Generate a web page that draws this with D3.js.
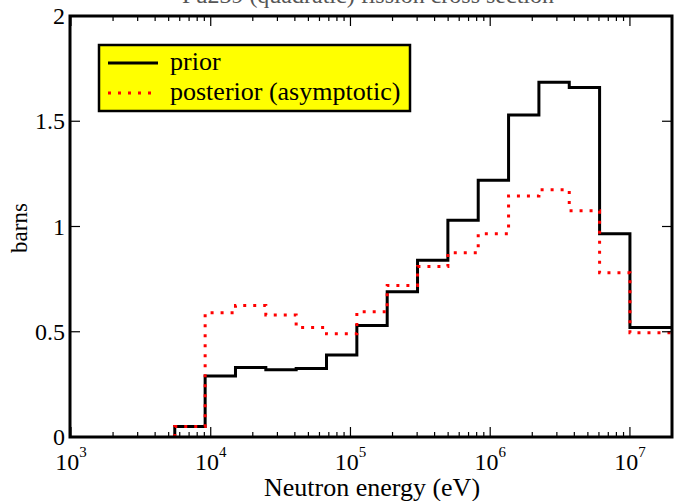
<!DOCTYPE html>
<html>
<head>
<meta charset="utf-8">
<script src="https://cdn.jsdelivr.net/npm/d3@7"></script>
<style>
    body { margin: 0; background: #fff; }
    svg text { font-family: "Liberation Serif", "Times New Roman", Times, "DejaVu Serif", serif; }
</style>
</head>
<body>
<svg id="chart" width="674" height="501"></svg>
<script>
// group boundaries (eV)
const edges = [5530, 9119, 15034, 24788, 40868, 67379, 111090, 183156, 301974,
    497871, 820850, 1353353, 2231302, 3678794, 6065307, 1e7, 2e7];
const prior = [0.05, 0.29, 0.33, 0.32, 0.325, 0.39, 0.53, 0.69, 0.84, 1.03, 1.22, 1.53, 1.685, 1.66, 0.965, 0.52];
const posterior = [0.05, 0.59, 0.625, 0.58, 0.52, 0.49, 0.595, 0.72, 0.81, 0.875, 0.965, 1.145, 1.175, 1.075, 0.78, 0.495];
const yTicks = [0, 0.5, 1, 1.5, 2];
const xDecades = [1e3, 1e4, 1e5, 1e6, 1e7];
const legendItems = ['prior', 'posterior (asymptotic)'];

const svg = d3.select('#chart');
const margin = { left: 70, right: 672, top: 16, bottom: 437 };

const x = d3.scaleLog().domain([1e3, 2e7]).range([71, 672]);
const y = d3.scaleLinear().domain([0, 2]).range([margin.bottom, margin.top]);

// title, mostly off the top of the picture
svg.append('text')
    .attr('x', 368)
    .attr('y', 3)
    .attr('text-anchor', 'middle')
    .style('font-size', '24px')
    .style('fill', '#555')
    .text('Pu239 (quadratic) fission cross section');

// histogram path: start from zero at the first edge
function stepPoints(values) {
    const pts = [[edges[0], 0]];
    values.forEach((v, i) => {
        pts.push([edges[i], v]);
        pts.push([edges[i + 1], v]);
    });
    return pts;
}
const line = d3.line().x(d => x(d[0])).y(d => y(d[1]));

svg.append('path')
    .attr('d', line(stepPoints(prior)))
    .attr('fill', 'none')
    .attr('stroke', '#000')
    .attr('stroke-width', 3);

svg.append('path')
    .attr('d', line(stepPoints(posterior)))
    .attr('fill', 'none')
    .attr('stroke', '#ff0000')
    .attr('stroke-width', 3)
    .attr('stroke-dasharray', '3,7');

// ticks (inward, all four sides)
const minor = [];
for (let d = 1e3; d < 2e7; d *= 10) {
    for (let k = 2; k <= 9; k++) if (d * k <= 2e7) minor.push(d * k);
}
const ticks = svg.append('g').attr('stroke', '#000').attr('stroke-width', 1.2);
xDecades.forEach(v => {
    ticks.append('line').attr('x1', x(v)).attr('x2', x(v)).attr('y1', margin.bottom).attr('y2', margin.bottom - 10);
    ticks.append('line').attr('x1', x(v)).attr('x2', x(v)).attr('y1', margin.top).attr('y2', margin.top + 10);
});
minor.forEach(v => {
    ticks.append('line').attr('x1', x(v)).attr('x2', x(v)).attr('y1', margin.bottom).attr('y2', margin.bottom - 5);
    ticks.append('line').attr('x1', x(v)).attr('x2', x(v)).attr('y1', margin.top).attr('y2', margin.top + 5);
});
yTicks.forEach(v => {
    ticks.append('line').attr('x1', margin.left).attr('x2', margin.left + 10).attr('y1', y(v)).attr('y2', y(v));
    ticks.append('line').attr('x1', margin.right).attr('x2', margin.right - 10).attr('y1', y(v)).attr('y2', y(v));
});

// frame
svg.append('rect')
    .attr('x', margin.left)
    .attr('y', margin.top)
    .attr('width', margin.right - margin.left)
    .attr('height', margin.bottom - margin.top)
    .attr('fill', 'none')
    .attr('stroke', '#000')
    .attr('stroke-width', 3);

// y tick labels
svg.append('g').selectAll('text')
    .data(yTicks)
    .enter()
    .append('text')
    .attr('x', 65)
    .attr('y', d => y(d) + 8)
    .attr('text-anchor', 'end')
    .style('font-size', '24px')
    .text(d => d3.format('~g')(d));

// x tick labels 10^n
const xl = svg.append('g').selectAll('text')
    .data(xDecades)
    .enter()
    .append('text')
    .attr('x', d => x(d))
    .attr('y', 470)
    .attr('text-anchor', 'middle')
    .style('font-size', '24px');
xl.append('tspan').text('10');
xl.append('tspan')
    .attr('dy', -13)
    .style('font-size', '15px')
    .text(d => Math.round(Math.log10(d)));

// axis labels
svg.append('text')
    .attr('x', 372)
    .attr('y', 496)
    .attr('text-anchor', 'middle')
    .style('font-size', '26px')
    .text('Neutron energy (eV)');

svg.append('text')
    .attr('transform', 'translate(27 228) rotate(-90)')
    .attr('text-anchor', 'middle')
    .style('font-size', '23px')
    .text('barns');

// legend
const legend = svg.append('g');
legend.append('rect')
    .attr('x', 99)
    .attr('y', 45)
    .attr('width', 311)
    .attr('height', 66)
    .attr('fill', '#ffff00')
    .attr('stroke', '#000')
    .attr('stroke-width', 2.5);
legendItems.forEach((name, i) => {
    const ly = 63 + i * 30;
    legend.append('line')
        .attr('x1', 108).attr('x2', 158)
        .attr('y1', ly).attr('y2', ly)
        .attr('stroke', i === 0 ? '#000' : '#ff0000')
        .attr('stroke-width', 3)
        .attr('stroke-dasharray', i === 0 ? null : '3,7');
    legend.append('text')
        .attr('x', 170)
        .attr('y', ly + 7)
        .style('font-size', '26px')
        .text(name);
});
</script>
</body>
</html>
